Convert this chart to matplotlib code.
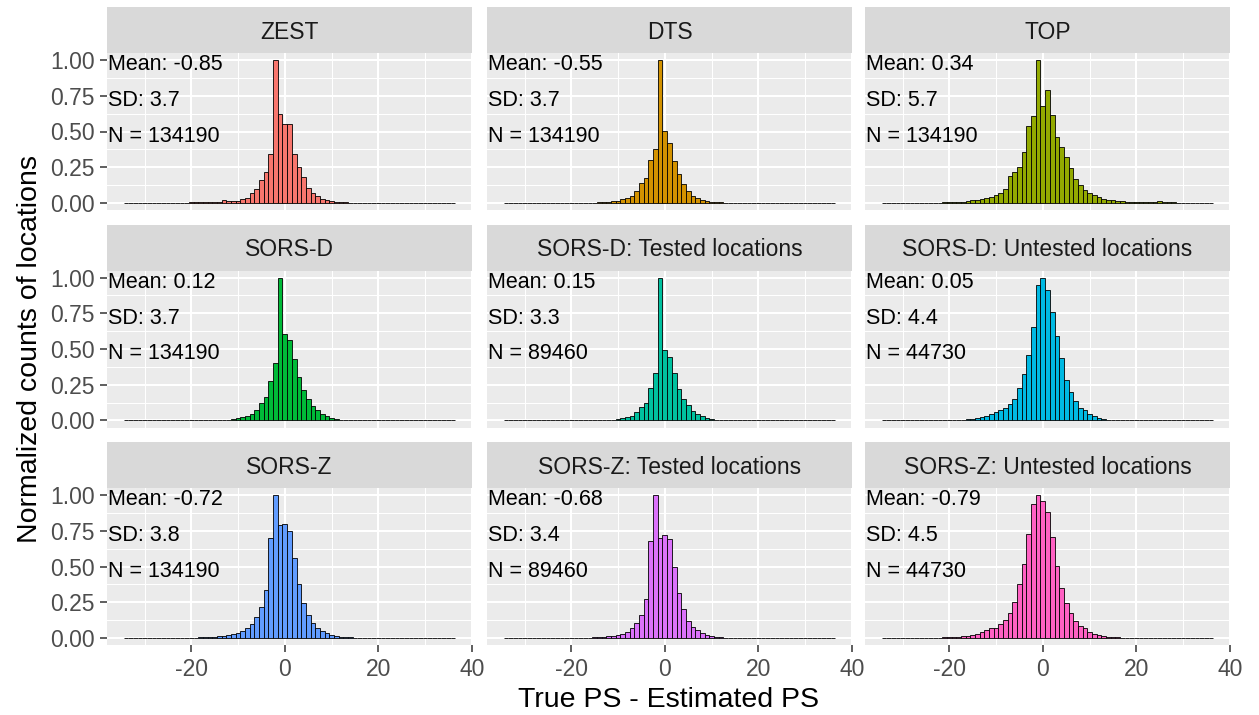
import numpy as np
import matplotlib.pyplot as plt
from matplotlib.transforms import blended_transform_factory

plt.rcParams['font.family'] = ['Liberation Sans', 'DejaVu Sans']

# histogram bins, width 1, centred on integers
bin_centers = np.arange(-34, 37)

# normalized bar heights; first value belongs to bin *_start
zest_start = -20
zest = [0.003, 0.008, 0.004, 0.003, 0.003, 0.004, 0.008, 0.019, 0.014, 0.012,
        0.014, 0.03, 0.037, 0.07, 0.10, 0.16, 0.217, 0.34, 1.0, 0.62,
        0.556, 0.556, 0.34, 0.25, 0.18, 0.107, 0.07, 0.047, 0.03, 0.019,
        0.01, 0.006, 0.004, 0.003, 0.002]

dts_start = -14
dts = [0.003, 0.005, 0.007, 0.01, 0.016, 0.026, 0.037, 0.051, 0.084, 0.138,
       0.172, 0.298, 0.378, 1.0, 0.503, 0.417, 0.294, 0.2, 0.13, 0.084,
       0.051, 0.033, 0.021, 0.014, 0.009, 0.005, 0.003]

top_start = -22
top = [0.002, 0.003, 0.004, 0.005, 0.007, 0.009, 0.012, 0.017, 0.023, 0.03,
       0.037, 0.042, 0.054, 0.07, 0.096, 0.187, 0.217, 0.252, 0.357, 0.537,
       0.607, 1.0, 0.678, 0.79, 0.614, 0.463, 0.388, 0.318, 0.241, 0.164,
       0.124, 0.093, 0.07, 0.054, 0.042, 0.03, 0.023, 0.019, 0.014, 0.012,
       0.009, 0.007, 0.006, 0.005, 0.005, 0.006, 0.008, 0.01, 0.008, 0.005,
       0.003, 0.002, 0.002]

sors_d_start = -16
sors_d = [0.002, 0.003, 0.003, 0.004, 0.006, 0.01, 0.014, 0.023, 0.033, 0.047,
          0.075, 0.122, 0.164, 0.275, 0.399, 1.0, 0.603, 0.563, 0.427, 0.305,
          0.211, 0.153, 0.099, 0.07, 0.042, 0.03, 0.019, 0.01, 0.005, 0.003,
          0.002]

sors_d_tested_start = -15
sors_d_tested = [0.002, 0.002, 0.003, 0.004, 0.006, 0.009, 0.014, 0.023, 0.033, 0.056,
                 0.094, 0.122, 0.228, 0.329, 1.0, 0.493, 0.446, 0.333, 0.223, 0.153,
                 0.106, 0.066, 0.042, 0.031, 0.019, 0.012, 0.006, 0.004, 0.002]

sors_d_untested_start = -20
sors_d_untested = [0.002, 0.002, 0.003, 0.005, 0.008, 0.012, 0.016, 0.023, 0.031, 0.042,
                   0.056, 0.075, 0.089, 0.113, 0.153, 0.23, 0.322, 0.455, 0.657, 0.948,
                   1.0, 0.911, 0.756, 0.592, 0.437, 0.286, 0.202, 0.136, 0.089, 0.07,
                   0.042, 0.028, 0.019, 0.012, 0.006, 0.004, 0.002]

sors_z_start = -20
sors_z = [0.002, 0.002, 0.003, 0.004, 0.006, 0.009, 0.012, 0.016, 0.021, 0.028,
          0.035, 0.049, 0.068, 0.1, 0.145, 0.217, 0.336, 0.70, 1.0, 0.79,
          0.795, 0.748, 0.557, 0.375, 0.247, 0.161, 0.103, 0.068, 0.049, 0.035,
          0.021, 0.014, 0.008, 0.005, 0.003, 0.002]

sors_z_tested_start = -17
sors_z_tested = [0.002, 0.002, 0.004, 0.005, 0.007, 0.01, 0.014, 0.021, 0.028, 0.044,
                 0.068, 0.105, 0.161, 0.273, 0.678, 1.0, 0.70, 0.72, 0.692, 0.499,
                 0.317, 0.203, 0.119, 0.079, 0.054, 0.033, 0.021, 0.012, 0.006, 0.004,
                 0.002]

sors_z_untested_start = -22
sors_z_untested = [0.002, 0.003, 0.004, 0.005, 0.007, 0.01, 0.014, 0.021, 0.028, 0.04,
                   0.056, 0.068, 0.072, 0.098, 0.126, 0.177, 0.254, 0.375, 0.515, 0.725,
                   0.935, 1.0, 0.958, 0.883, 0.709, 0.503, 0.347, 0.242, 0.172, 0.119,
                   0.084, 0.068, 0.044, 0.03, 0.021, 0.014, 0.008, 0.005, 0.003, 0.002]

panel_titles = ["ZEST", "DTS", "TOP",
                "SORS-D", "SORS-D: Tested locations", "SORS-D: Untested locations",
                "SORS-Z", "SORS-Z: Tested locations", "SORS-Z: Untested locations"]
panel_means = ["-0.85", "-0.55", "0.34", "0.12", "0.15", "0.05", "-0.72", "-0.68", "-0.79"]
panel_sds = ["3.7", "3.7", "5.7", "3.7", "3.3", "4.4", "3.8", "3.4", "4.5"]
panel_ns = ["134190", "134190", "134190", "134190", "89460", "44730", "134190", "89460", "44730"]

# ggplot default hue palette for 9 groups
colors = ["#F8766D", "#D39200", "#93AA00", "#00BA38", "#00C19F",
          "#00B9E3", "#619CFF", "#DB72FB", "#FF61C3"]

series = [(zest_start, zest), (dts_start, dts), (top_start, top),
          (sors_d_start, sors_d), (sors_d_tested_start, sors_d_tested),
          (sors_d_untested_start, sors_d_untested),
          (sors_z_start, sors_z), (sors_z_tested_start, sors_z_tested),
          (sors_z_untested_start, sors_z_untested)]


def full_counts(start, values):
    """puts the listed bars into the full bin range, empty bins stay 0"""
    counts = np.zeros(len(bin_centers))
    i = start - bin_centers[0]
    counts[i:i + len(values)] = values
    return counts


W, H = 1259, 715
fig = plt.figure(figsize=(W / 100, H / 100), dpi=100)

col_left = [107, 487, 865]
row_top = [53, 270.5, 488]
panel_w, panel_h, strip_h = 365, 157, 46

tick_size = 16.5
strip_size = 16.5
note_size = 15.5
title_size = 20.5

for idx, (start, values) in enumerate(series):
    r, c = divmod(idx, 3)
    x0, y0 = col_left[c], row_top[r]
    ax = fig.add_axes([x0 / W, 1 - (y0 + panel_h) / H, panel_w / W, panel_h / H])
    strip = fig.add_axes([x0 / W, 1 - y0 / H, panel_w / W, strip_h / H])

    # strip with facet title
    strip.set_facecolor("#D9D9D9")
    strip.set_xticks([])
    strip.set_yticks([])
    for s in strip.spines.values():
        s.set_visible(False)
    strip.text(0.5, 0.31, panel_titles[idx], ha="center", va="baseline",
               fontsize=strip_size, color="#1A1A1A", transform=strip.transAxes)

    ax.set_facecolor("#EBEBEB")
    ax.bar(bin_centers, full_counts(start, values), width=1.0,
           color=colors[idx], edgecolor="black", linewidth=0.6, zorder=3)

    ax.set_xlim(-38.05, 40.05)
    ax.set_ylim(-0.05, 1.05)
    ax.set_xticks([-20, 0, 20, 40])
    ax.set_xticks([-30, -10, 10, 30], minor=True)
    ax.set_yticks([0, 0.25, 0.5, 0.75, 1.0])
    ax.set_yticks([0.125, 0.375, 0.625, 0.875], minor=True)
    ax.set_xticklabels(["-20", "0", "20", "40"])
    ax.set_yticklabels(["0.00", "0.25", "0.50", "0.75", "1.00"])
    ax.grid(which="major", color="white", linewidth=1.5, zorder=0)
    ax.grid(which="minor", color="white", linewidth=0.75, zorder=0)
    ax.set_axisbelow(True)
    for s in ax.spines.values():
        s.set_visible(False)
    ax.tick_params(which="major", length=5, width=1.1, color="#333333",
                   labelcolor="#4D4D4D", labelsize=tick_size, pad=4)
    ax.tick_params(which="minor", length=0)
    if c != 0:
        ax.tick_params(axis="y", which="both", left=False, labelleft=False)
    if r != 2:
        ax.tick_params(axis="x", which="both", bottom=False, labelbottom=False)

    # summary stats in the top left corner, caps centred just under the gridline
    trans = blended_transform_factory(ax.transAxes, ax.transData)
    for y, txt in [(1.0, "Mean: " + panel_means[idx]),
                   (0.75, "SD: " + panel_sds[idx]),
                   (0.5, "N = " + panel_ns[idx])]:
        ax.annotate(txt, xy=(0.003, y), xycoords=trans,
                    xytext=(0, -7.4), textcoords="offset points",
                    ha="left", va="baseline", fontsize=note_size,
                    color="black", zorder=5, annotation_clip=False)

fig.text(668 / W, 1 - 700 / H, "True PS - Estimated PS", ha="center", va="center",
         fontsize=title_size, color="black")
fig.text(30 / W, 1 - 349 / H, "Normalized counts of locations", ha="center",
         va="center", rotation=90, fontsize=title_size, color="black")

fig.savefig("out.png", dpi=100, facecolor="white")
